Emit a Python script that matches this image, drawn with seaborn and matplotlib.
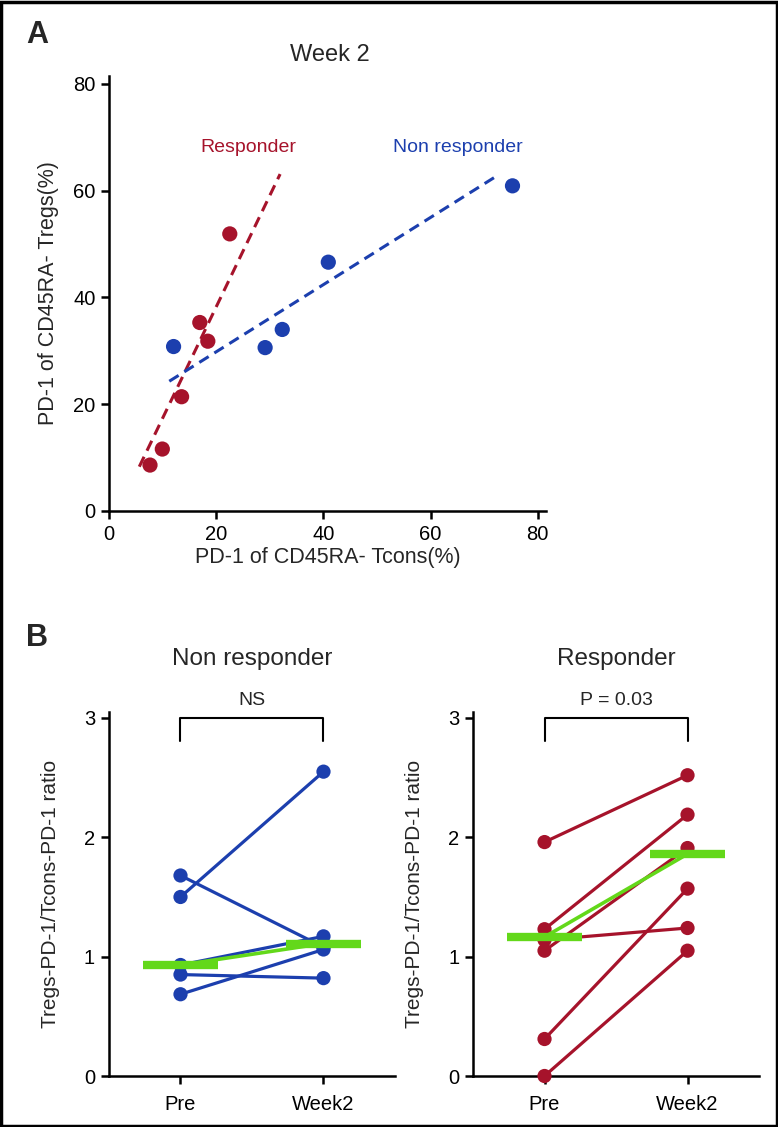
import matplotlib
matplotlib.use("Agg")
import matplotlib.pyplot as plt
import pandas as pd
import seaborn as sns
from matplotlib.patches import Rectangle

# ==========================================
# DATA - panel A (week 2)
# ==========================================
resp_tcons = [7.6, 9.9, 13.5, 16.9, 18.4, 22.5]
resp_tregs = [8.6, 11.6, 21.4, 35.3, 31.8, 51.9]
nonresp_tcons = [12.0, 29.1, 32.3, 40.9, 75.3]
nonresp_tregs = [30.8, 30.6, 34.0, 46.6, 60.9]

# fitted lines as drawn in the figure
resp_fit_x = [5.6, 31.9]
resp_fit_y = [8.3, 63.1]
nonresp_fit_x = [11.2, 72.6]
nonresp_fit_y = [24.3, 62.9]

axis_ticks_a = [0, 20, 40, 60, 80]

# ==========================================
# DATA - panel B (paired ratios)
# ==========================================
timepoints = ["Pre", "Week2"]
nonresp_pre = [1.50, 1.68, 0.93, 0.85, 0.685]
nonresp_week2 = [2.55, 1.08, 1.17, 0.82, 1.06]
nonresp_center = [0.93, 1.11]

resp_pre = [1.96, 1.23, 1.05, 1.14, 0.31, 0.0]
resp_week2 = [2.52, 2.19, 1.91, 1.24, 1.57, 1.05]
resp_center = [1.165, 1.86]

ratio_ticks = [0, 1, 2, 3]

RED = "#A6132B"
BLUE = "#1C3FAE"
GREEN = "#63D81A"

sns.set_theme(style="ticks")
plt.rcParams["font.family"] = ["Liberation Sans", "DejaVu Sans"]


def style_axes(ax):
    sns.despine(ax=ax)
    for side in ("left", "bottom"):
        ax.spines[side].set_linewidth(1.8)
        ax.spines[side].set_color("black")
    ax.tick_params(direction="out", length=6, width=1.8, color="black",
                   labelsize=14.5, labelcolor="black", pad=4)


fig = plt.figure(figsize=(7.78, 11.27), dpi=100)

# ---------- Panel A ----------
axA = fig.add_axes([0.1405, 0.5466, 0.5609, 0.3861])
dfA = pd.DataFrame({
    "tcons": resp_tcons + nonresp_tcons,
    "tregs": resp_tregs + nonresp_tregs,
    "group": ["Responder"] * len(resp_tcons) + ["Non responder"] * len(nonresp_tcons),
})
axA.plot(resp_fit_x, resp_fit_y, color=RED, lw=2.2, dashes=(3.6, 2.2), zorder=2)
axA.plot(nonresp_fit_x, nonresp_fit_y, color=BLUE, lw=2.2, dashes=(3.6, 2.2), zorder=2)
sns.scatterplot(data=dfA, x="tcons", y="tregs", hue="group",
                palette={"Responder": RED, "Non responder": BLUE},
                s=120, edgecolor="none", legend=False, ax=axA, zorder=3)
axA.set_xlim(0, 81.5)
axA.set_ylim(0, 81.5)
axA.set_xticks(axis_ticks_a)
axA.set_yticks(axis_ticks_a)
axA.set_xlabel("PD-1 of CD45RA- Tcons(%)", fontsize=15.5, labelpad=2)
axA.set_ylabel("PD-1 of CD45RA- Tregs(%)", fontsize=15.5, labelpad=10)
style_axes(axA)
axA.text(25.9, 68, "Responder", color=RED, fontsize=14, ha="center", va="center")
axA.text(65.1, 68, "Non responder", color=BLUE, fontsize=14, ha="center", va="center")
fig.text(330 / 778, 1 - 55 / 1127, "Week 2", fontsize=17, ha="center", va="center")


# ---------- Panel B ----------
def paired_panel(ax, pre, week2, center, color, title, sig):
    n = len(pre)
    df = pd.DataFrame({
        "subject": list(range(n)) * 2,
        "time": ["Pre"] * n + ["Week2"] * n,
        "ratio": pre + week2,
    })
    df["pos"] = df["time"].map({t: i for i, t in enumerate(timepoints)})
    sns.lineplot(data=df, x="pos", y="ratio", units="subject", estimator=None,
                 color=color, lw=2.3, ax=ax, zorder=2)
    sns.scatterplot(data=df, x="pos", y="ratio", color=color, s=105,
                    edgecolor="none", ax=ax, zorder=6)
    # dots sitting on the axis must not be clipped
    ax.collections[-1].set_clip_on(False)
    cdf = pd.DataFrame({"pos": [0, 1], "ratio": center})
    sns.lineplot(data=cdf, x="pos", y="ratio", color=GREEN, lw=2.6, ax=ax, zorder=7)
    half = 0.265
    ax.hlines(center, [p - half for p in cdf["pos"]], [p + half for p in cdf["pos"]],
              color=GREEN, lw=6, zorder=8)

    ax.set_xlim(-0.5, 1.5)
    ax.set_ylim(0, 3.05)
    ax.set_xticks([0, 1])
    ax.set_xticklabels(timepoints)
    ax.set_yticks(ratio_ticks)
    ax.set_xlabel("")
    ax.set_ylabel("Tregs-PD-1/Tcons-PD-1 ratio", fontsize=15, labelpad=17)
    style_axes(ax)
    ax.tick_params(axis="x", pad=8)

    # significance bracket
    ax.plot([0, 0, 1, 1], [2.81, 3.0, 3.0, 2.81], color="black", lw=1.5, clip_on=False)
    ax.text(0.5, 3.15, sig, fontsize=14, ha="center", va="center")
    ax.text(0.5, 3.49, title, fontsize=17.5, ha="center", va="center")


axB1 = fig.add_axes([0.1401, 0.04525, 0.3676, 0.3230])
axB2 = fig.add_axes([0.6080, 0.04525, 0.3676, 0.3230])
paired_panel(axB1, nonresp_pre, nonresp_week2, nonresp_center, BLUE, "Non responder", "NS")
paired_panel(axB2, resp_pre, resp_week2, resp_center, RED, "Responder", "P = 0.03")

# panel letters and outer frame
fig.text(37 / 778, 1 - 35 / 1127, "A", fontsize=22, fontweight="bold",
         ha="center", va="center")
fig.text(37 / 778, 1 - 638 / 1127, "B", fontsize=22, fontweight="bold",
         ha="center", va="center")
fig.add_artist(Rectangle((0.0015, 0.001), 0.997, 0.9975, transform=fig.transFigure,
                         fill=False, lw=2.5, ec="black"))

fig.savefig("out.png", dpi=100)
